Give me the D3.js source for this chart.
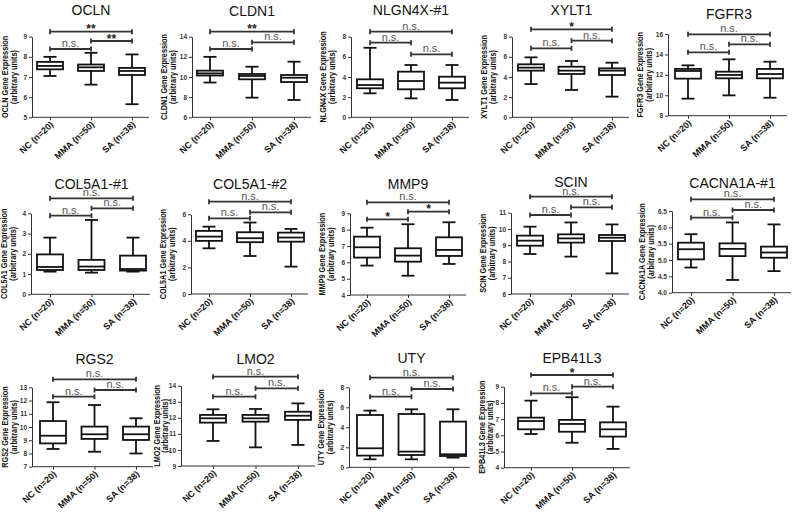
<!DOCTYPE html>
<html>
<head>
<meta charset="utf-8">
<script src="https://cdn.jsdelivr.net/npm/d3@7"></script>
<style>
  body { margin: 0; background: #fff; }
  svg { display: block; font-family: "Liberation Sans", Arial, sans-serif; }
</style>
</head>
<body>
<div class="container"></div>
<script>
const GENES = ["OCLN", "CLDN1", "NLGN4X-#1", "XYLT1", "FGFR3",
  "COL5A1-#1", "COL5A1-#2", "MMP9", "SCIN", "CACNA1A-#1",
  "RGS2", "LMO2", "UTY", "EPB41L3"];
const LABEL_GENES = ["OCLN", "CLDN1", "NLGN4X", "XYLT1", "FGFR3",
  "COL5A1", "COL5A1", "MMP9", "SCIN", "CACNA1A",
  "RGS2", "LMO2", "UTY", "EPB41L3"];
const GROUPS = ["NC (n=20)", "MMA (n=50)", "SA (n=38)"];

// [min, q1, median, q3, max]
const NC = [
  [7.05, 7.38, 7.55, 7.75, 8.0],
  [9.45, 10.15, 10.36, 10.63, 12.0],
  [2.38, 2.88, 3.2, 3.77, 6.9],
  [3.3, 4.63, 4.93, 5.26, 5.95],
  [9.67, 11.63, 12.38, 12.58, 12.93],
  [1.12, 1.2, 1.35, 1.97, 2.8],
  [3.44, 4.0, 4.32, 4.75, 5.07],
  [5.8, 6.29, 6.92, 7.57, 8.12],
  [8.46, 8.97, 9.28, 9.59, 10.14],
  [4.77, 5.02, 5.33, 5.53, 5.79],
  [8.34, 8.76, 9.34, 10.45, 11.87],
  [10.56, 11.7, 11.97, 12.18, 12.53],
  [0.8, 1.17, 1.9, 5.23, 5.67],
  [6.08, 6.37, 6.88, 7.09, 8.14]
];
const MMA = [
  [6.62, 7.3, 7.48, 7.62, 8.2],
  [7.95, 9.77, 10.1, 10.3, 11.02],
  [1.88, 2.78, 3.6, 4.53, 5.19],
  [2.71, 4.3, 4.63, 5.02, 5.59],
  [9.99, 11.66, 11.99, 12.31, 13.52],
  [1.07, 1.2, 1.37, 1.7, 3.67],
  [2.86, 3.9, 4.2, 4.65, 5.38],
  [5.18, 6.04, 6.41, 6.86, 8.33],
  [8.3, 9.16, 9.42, 9.67, 10.4],
  [4.39, 5.12, 5.34, 5.51, 6.15],
  [8.13, 9.1, 9.45, 10.03, 11.66],
  [10.16, 11.76, 11.97, 12.18, 12.55],
  [0.8, 1.23, 1.57, 5.33, 5.8],
  [5.54, 6.22, 6.7, 6.95, 8.35]
];
const SA = [
  [5.65, 7.1, 7.3, 7.45, 8.12],
  [7.72, 9.5, 9.93, 10.2, 11.52],
  [1.72, 2.88, 3.44, 4.03, 5.19],
  [2.05, 4.2, 4.63, 4.86, 5.42],
  [9.76, 11.66, 12.08, 12.58, 13.29],
  [1.12, 1.17, 1.25, 1.91, 2.8],
  [2.06, 3.94, 4.25, 4.62, 4.9],
  [5.9, 6.39, 6.76, 7.53, 8.45],
  [7.27, 9.26, 9.46, 9.63, 10.28],
  [4.66, 5.07, 5.23, 5.41, 6.09],
  [8.0, 9.02, 9.45, 10.03, 10.66],
  [10.31, 11.87, 12.13, 12.38, 12.9],
  [0.97, 1.13, 1.3, 4.57, 5.8],
  [5.16, 5.92, 6.37, 6.8, 7.77]
];
const Y_DOMAINS = [[5, 9], [6, 14], [0, 8], [0, 8], [8, 16], [0, 4], [0, 6],
  [4, 9], [6, 11], [4, 6.5], [7, 13], [9, 14], [0, 8], [4, 9]];
const Y_TICKS = [
  [5, 6, 7, 8, 9], [6, 8, 10, 12, 14], [0, 2, 4, 6, 8], [0, 2, 4, 6, 8],
  [8, 10, 12, 14, 16], [0, 1, 2, 3, 4], [0, 2, 4, 6], [4, 5, 6, 7, 8, 9],
  [6, 7, 8, 9, 10, 11], [4, 4.5, 5, 5.5, 6, 6.5], [7, 8, 9, 10, 11, 12, 13],
  [9, 10, 11, 12, 13, 14], [0, 2, 4, 6, 8], [4, 5, 6, 7, 8, 9]];
// significance: [NC vs SA, NC vs MMA, MMA vs SA]
const SIG = [
  ["**", "n.s.", "**"], ["**", "n.s.", "n.s."], ["n.s.", "n.s.", "n.s."],
  ["*", "n.s.", "n.s."], ["n.s.", "n.s.", "n.s."], ["n.s.", "n.s.", "n.s."],
  ["n.s.", "n.s.", "n.s."], ["n.s.", "*", "*"], ["n.s.", "n.s.", "n.s."],
  ["n.s.", "n.s.", "n.s."], ["n.s.", "n.s.", "n.s."], ["n.s.", "n.s.", "n.s."],
  ["n.s.", "n.s.", "n.s."], ["*", "n.s.", "n.s."]];

// panel placement (pixels): axis x, first box x, box step, plot top/bottom,
// title baseline, y-label line offsets, bracket heights [NC-SA, NC-MMA, MMA-SA]
const LAYOUT = [
  { ax: 32, c0: 50, step: 41, top: 36.7, bot: 117.3, ty: 15, lo: [24, 15], br: [31.7, 49, 41] },
  { ax: 192, c0: 210, step: 42, top: 36.7, bot: 117.3, ty: 15.5, lo: [25, 16], br: [31.7, 49, 42.3] },
  { ax: 351, c0: 370, step: 41, top: 36.7, bot: 117.3, ty: 15, lo: [25, 16], br: [31.7, 42.7, 54.3] },
  { ax: 512, c0: 531, step: 40.5, top: 36.7, bot: 117.3, ty: 15, lo: [25, 16], br: [29.3, 48.3, 40.7] },
  { ax: 668, c0: 688, step: 41, top: 34, bot: 115.7, ty: 19, lo: [25, 16], br: [34.3, 52.3, 44.3] },
  { ax: 31, c0: 50, step: 41.5, top: 213.3, bot: 294.3, ty: 188.5, lo: [24, 15], br: [198.3, 215.7, 208.3] },
  { ax: 191, c0: 209, step: 41, top: 214.3, bot: 294, ty: 189, lo: [25, 16], br: [201.7, 218.3, 212.3] },
  { ax: 350, c0: 367, step: 41, top: 213.3, bot: 295, ty: 188.5, lo: [25, 16], br: [202.3, 219.3, 211.7] },
  { ax: 511, c0: 530, step: 41, top: 212.7, bot: 294, ty: 187, lo: [25, 16], br: [196.7, 215, 207.3] },
  { ax: 672, c0: 691, step: 41.5, top: 211, bot: 292.7, ty: 188, lo: [27, 18], br: [199.3, 217.7, 210] },
  { ax: 32, c0: 53, step: 41.5, top: 387.3, bot: 466.7, ty: 364, lo: [24, 15], br: [379.3, 396.7, 390] },
  { ax: 181, c0: 213, step: 42.5, top: 385.7, bot: 466, ty: 364, lo: [21, 13], br: [376.7, 396.7, 388.3] },
  { ax: 349, c0: 370, step: 41.5, top: 387.3, bot: 467.3, ty: 363, lo: [25, 16], br: [377.7, 396.7, 389] },
  { ax: 504, c0: 531, step: 41, top: 386.7, bot: 467.7, ty: 363, lo: [19, 11], br: [375, 393.3, 386.7] }
];

const WIDTH = 796, HEIGHT = 516;
const INK = "#111";

const svg = d3.select(".container")
  .append("svg")
  .attr("viewBox", [0, 0, WIDTH, HEIGHT])
  .attr("width", WIDTH)
  .attr("height", HEIGHT);

GENES.forEach((gene, i) => drawPanel(i));

function drawPanel(i) {
  const L = LAYOUT[i];
  const x = d3.scalePoint().domain(GROUPS).range([L.c0, L.c0 + 2 * L.step]);
  const y = d3.scaleLinear().domain(Y_DOMAINS[i]).range([L.bot, L.top]);
  const fmt = Y_DOMAINS[i][1] % 1 ? d3.format(".1f") : d3.format("d");
  const g = svg.append("g");

  // y axis
  g.append("g")
    .attr("transform", `translate(${L.ax},0)`)
    .call(d3.axisLeft(y).tickValues(Y_TICKS[i]).tickSize(3).tickPadding(2).tickSizeOuter(0).tickFormat(fmt))
    .call((a) => a.selectAll("text").attr("font-size", 6.5).attr("font-weight", "bold")
      .attr("fill", "#333").attr("font-family", "Liberation Sans, Arial"))
    .call((a) => a.selectAll("path,line").attr("stroke", "#333"));

  // x axis
  const xEnd = L.c0 + 2 * L.step + 17;
  g.append("g")
    .attr("transform", `translate(0,${L.bot})`)
    .call(d3.axisBottom(x).tickSize(3).tickSizeOuter(0).tickFormat(""))
    .call((a) => a.select(".domain").remove())
    .call((a) => a.selectAll("line").attr("stroke", "#333"));
  g.append("line")
    .attr("x1", L.ax).attr("x2", xEnd)
    .attr("y1", L.bot).attr("y2", L.bot)
    .attr("stroke", "#333");

  // category labels
  g.selectAll(".cat")
    .data(GROUPS)
    .join("text")
    .attr("class", "cat")
    .attr("transform", (d) => `translate(${x(d) + 4},${L.bot + 8}) rotate(-43)`)
    .attr("text-anchor", "end")
    .attr("font-size", 9)
    .attr("font-weight", "bold")
    .attr("fill", INK)
    .text((d) => d);

  // y label, two lines
  const mid = (L.top + L.bot) / 2;
  [[LABEL_GENES[i] + " Gene Expression", L.ax - L.lo[0]],
   ["(arbitrary units)", L.ax - L.lo[1]]].forEach(([t, lx]) => {
    g.append("text")
      .attr("transform", `translate(${lx},${mid}) rotate(-90) scale(0.86,1)`)
      .attr("text-anchor", "middle")
      .attr("font-size", 8.5)
      .attr("font-weight", "bold")
      .attr("fill", INK)
      .text(t);
  });

  // title
  g.append("text")
    .attr("x", x(GROUPS[1]))
    .attr("y", L.ty)
    .attr("text-anchor", "middle")
    .attr("font-size", 14)
    .attr("fill", INK)
    .text(GENES[i]);

  // boxes
  const stats = [NC[i], MMA[i], SA[i]];
  const bw = 26, cw = 13;
  const box = g.selectAll(".box")
    .data(GROUPS.map((k, j) => ({ k, s: stats[j] })))
    .join("g")
    .attr("class", "box")
    .attr("stroke", INK)
    .attr("stroke-width", 1.8)
    .attr("fill", "none");
  box.append("line")
    .attr("x1", (d) => x(d.k)).attr("x2", (d) => x(d.k))
    .attr("y1", (d) => y(d.s[0])).attr("y2", (d) => y(d.s[4]));
  box.append("rect")
    .attr("x", (d) => x(d.k) - bw / 2)
    .attr("width", bw)
    .attr("y", (d) => y(d.s[3]))
    .attr("height", (d) => y(d.s[1]) - y(d.s[3]))
    .attr("fill", "#fff");
  box.append("line")
    .attr("x1", (d) => x(d.k) - bw / 2).attr("x2", (d) => x(d.k) + bw / 2)
    .attr("y1", (d) => y(d.s[2])).attr("y2", (d) => y(d.s[2]));
  [0, 4].forEach((q) => {
    box.append("line")
      .attr("x1", (d) => x(d.k) - cw / 2).attr("x2", (d) => x(d.k) + cw / 2)
      .attr("y1", (d) => y(d.s[q])).attr("y2", (d) => y(d.s[q]));
  });

  // significance brackets
  const pairs = [[0, 2], [0, 1], [1, 2]];
  pairs.forEach(([a, b], p) => {
    const by = L.br[p];
    const x1 = x(GROUPS[a]), x2 = x(GROUPS[b]);
    const lbl = SIG[i][p];
    const bg = g.append("g").attr("stroke", "#333").attr("stroke-width", 1.8);
    bg.append("line").attr("x1", x1).attr("x2", x2).attr("y1", by).attr("y2", by);
    [x1, x2].forEach((bx) => bg.append("line")
      .attr("x1", bx).attr("x2", bx).attr("y1", by - 2.5).attr("y2", by + 2.5));
    const star = lbl !== "n.s.";
    g.append("text")
      .attr("x", (x1 + x2) / 2)
      .attr("y", star ? by + 1.5 : by - 2)
      .attr("text-anchor", "middle")
      .attr("font-size", star ? 12 : 11)
      .attr("font-weight", star ? "bold" : "normal")
      .attr("fill", star ? "#222" : "#555")
      .text(lbl);
  });
}
</script>
</body>
</html>
